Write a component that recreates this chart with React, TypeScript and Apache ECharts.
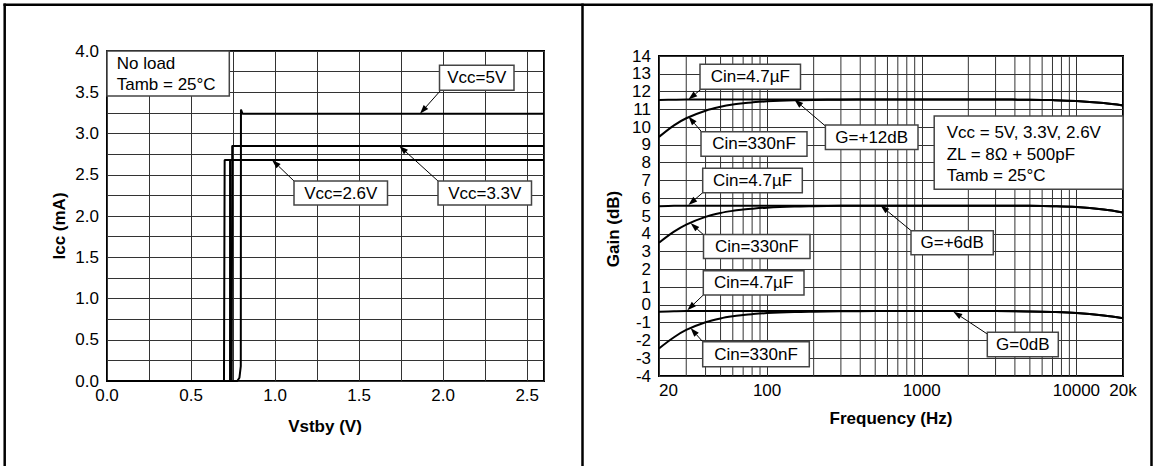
import React, { useEffect, useRef } from "react";
import * as echarts from "echarts";

const FONT = "'Liberation Sans', Arial, Helvetica, sans-serif";

// ---------- Left chart: Icc vs Vstby ----------
const vstby26 = [0, 0.696, 0.7, 2.6];
const icc26 = [0, 0, 2.68, 2.68];
const vstby33 = [0, 0.742, 0.745, 2.6];
const icc33 = [0, 0, 2.85, 2.85];
const vstby33b = [0.732, 0.732];
const icc33b = [0, 2.68];
const vstby5 = [0, 0.775, 0.788, 0.796, 0.797, 0.806, 2.6];
const icc5 = [0, 0, 0.04, 0.18, 3.29, 3.24, 3.24];

// ---------- Right chart: Gain vs Frequency ----------
const freqs = [20, 25, 30, 40, 50, 60, 70, 80, 100, 150, 200, 300, 500, 1000, 2000, 3000, 5000, 7000, 10000, 15000, 20000];
const g12Cin47u = [11.52, 11.54, 11.55, 11.55, 11.55, 11.55, 11.55, 11.55, 11.55, 11.55, 11.55, 11.55, 11.55, 11.55, 11.55, 11.55, 11.54, 11.52, 11.47, 11.35, 11.22];
const g12Cin330n = [9.45, 10.1, 10.5, 10.92, 11.14, 11.27, 11.34, 11.39, 11.45, 11.51, 11.53, 11.54, 11.55, 11.55, 11.55, 11.55, 11.54, 11.52, 11.47, 11.35, 11.22];
const g6Cin47u = [5.55, 5.57, 5.58, 5.58, 5.58, 5.58, 5.58, 5.58, 5.58, 5.58, 5.58, 5.58, 5.58, 5.58, 5.58, 5.58, 5.57, 5.55, 5.5, 5.36, 5.2];
const g6Cin330n = [3.5, 4.12, 4.52, 4.95, 5.17, 5.29, 5.36, 5.41, 5.47, 5.53, 5.55, 5.57, 5.58, 5.58, 5.58, 5.58, 5.57, 5.55, 5.5, 5.36, 5.2];
const g0Cin47u = [-0.38, -0.36, -0.35, -0.35, -0.35, -0.35, -0.35, -0.35, -0.35, -0.35, -0.35, -0.35, -0.35, -0.35, -0.35, -0.35, -0.37, -0.4, -0.46, -0.6, -0.75];
const g0Cin330n = [-2.45, -1.82, -1.41, -0.98, -0.76, -0.64, -0.57, -0.52, -0.46, -0.4, -0.38, -0.36, -0.35, -0.35, -0.35, -0.35, -0.37, -0.4, -0.46, -0.6, -0.75];
const logGridFreqs = [30, 40, 50, 60, 70, 80, 90, 200, 300, 400, 500, 600, 700, 800, 900, 2000, 3000, 4000, 5000, 6000, 7000, 8000, 9000];

const leftNotes = [
  { text: "Vcc=5V", box: [439.5, 65.3, 74.5, 25], from: [441, 90], tip: [1.862, 3.24] },
  { text: "Vcc=3.3V", box: [438, 181, 93.5, 24], from: [438, 181], tip: [1.739, 2.85] },
  { text: "Vcc=2.6V", box: [294, 181, 93.5, 24], from: [294, 181], tip: [0.982, 2.68] },
];
const rightNotes = [
  { text: "Cin=4.7µF", box: [700, 64.3, 100.5, 25], from: [701, 89.3], tip: [31, 11.55] },
  { text: "Cin=330nF", box: [701, 131.7, 106, 24.5], from: [701.5, 131.7], tip: [31, 10.6] },
  { text: "G=+12dB", box: [825.4, 125, 92.6, 24.5], from: [825.4, 126], tip: [150, 11.55] },
  { text: "Cin=4.7µF", box: [702.7, 168.3, 99.6, 24.4], from: [702.7, 192.7], tip: [31, 5.62] },
  { text: "Cin=330nF", box: [703.5, 234.5, 106.5, 24], from: [703.8, 235], tip: [32, 4.6] },
  { text: "G=+6dB", box: [911, 230.7, 82.3, 24], from: [911.5, 231], tip: [540, 5.6] },
  { text: "Cin=4.7µF", box: [703.3, 270.7, 100.7, 24.3], from: [703.3, 295], tip: [30.5, -0.3] },
  { text: "Cin=330nF", box: [702.7, 341.7, 106.6, 25], from: [702.7, 341.7], tip: [32, -1.3] },
  { text: "G=0dB", box: [987.3, 332.3, 71, 24.4], from: [987.3, 334], tip: [1600, -0.38] },
];

const zip = (xs: number[], ys: number[]) => xs.map((x, i) => [x, ys[i]]);

const labelStyle = { fontSize: 17, fontFamily: FONT, color: "#000" };
const gridLine = { show: true, lineStyle: { color: "#333", width: 1 } };
const halfFmt = (v: number) =>
  Math.abs(v * 2 - Math.round(v * 2)) < 1e-6 && v <= 4.01 && Math.abs(v - 2.6) > 1e-6 ? v.toFixed(1) : "";

const curve = (name: string, data: number[][], gi: number, smooth = false) => ({
  name,
  type: "line",
  xAxisIndex: gi,
  yAxisIndex: gi,
  data,
  showSymbol: false,
  symbol: "none",
  smooth: smooth ? 0.35 : false,
  lineStyle: { color: "#000", width: 2 },
  z: 3,
});

export default function App() {
  const ref = useRef<HTMLDivElement>(null);
  useEffect(() => {
    if (!ref.current) return;
    const chart = echarts.init(ref.current, null, { renderer: "svg" });
    chart.setOption({
      animation: false,
      backgroundColor: "#fff",
      grid: [
        { left: 107, top: 51, width: 437, height: 330, show: true, borderColor: "#000", borderWidth: 2, outerBoundsMode: "none" },
        { left: 659, top: 56, width: 464, height: 320, show: true, borderColor: "#000", borderWidth: 2, outerBoundsMode: "none" },
      ],
      xAxis: [
        {
          type: "value", gridIndex: 0, min: 0, max: 2.6, interval: 0.25,
          axisLine: { show: false }, axisTick: { show: false }, splitLine: gridLine,
          axisLabel: { ...labelStyle, margin: 6, formatter: halfFmt },
        },
        {
          type: "log", logBase: 10, gridIndex: 1, min: 20, max: 20000,
          axisLine: { show: false }, axisTick: { show: false }, splitLine: gridLine,
          axisLabel: {
            ...labelStyle, margin: 6, alignMinLabel: "left",
            formatter: (v: number) => (v >= 19999 ? "20k" : String(Math.round(v))),
          },
        },
      ],
      yAxis: [
        {
          type: "value", gridIndex: 0, min: 0, max: 4, interval: 0.25,
          axisLine: { show: false }, axisTick: { show: false }, splitLine: gridLine,
          axisLabel: { ...labelStyle, margin: 8, formatter: halfFmt },
        },
        {
          type: "value", gridIndex: 1, min: -4, max: 14, interval: 1,
          axisLine: { show: false }, axisTick: { show: false }, splitLine: gridLine,
          axisLabel: { ...labelStyle, margin: 8 },
        },
      ],
      series: [
        curve("Vcc=2.6V", zip(vstby26, icc26), 0),
        curve("Vcc=3.3V", zip(vstby33, icc33), 0),
        curve("Vcc=3.3V trace", zip(vstby33b, icc33b), 0),
        curve("Vcc=5V", zip(vstby5, icc5), 0),
        {
          type: "custom",
          xAxisIndex: 1,
          yAxisIndex: 1,
          z: 1,
          silent: true,
          data: logGridFreqs.map((f) => [f, 0]),
          encode: { x: 0, y: 1 },
          renderItem: (params: any, api: any) => {
            const x = api.coord([api.value(0), 0])[0];
            const cs = params.coordSys;
            return {
              type: "line",
              shape: { x1: x, y1: cs.y, x2: x, y2: cs.y + cs.height },
              style: { stroke: "#333", lineWidth: 1 },
            };
          },
        },
        curve("G=+12dB Cin=4.7µF", zip(freqs, g12Cin47u), 1, true),
        curve("G=+12dB Cin=330nF", zip(freqs, g12Cin330n), 1, true),
        curve("G=+6dB Cin=4.7µF", zip(freqs, g6Cin47u), 1, true),
        curve("G=+6dB Cin=330nF", zip(freqs, g6Cin330n), 1, true),
        curve("G=0dB Cin=4.7µF", zip(freqs, g0Cin47u), 1, true),
        curve("G=0dB Cin=330nF", zip(freqs, g0Cin330n), 1, true),
      ],
    });

    const els: any[] = [];
    const txt = (text: string, x: number, y: number, align = "center", extra: any = {}) => ({
      type: "text", x, y, z: 20, ...extra,
      style: { text, fontSize: 17, fontFamily: FONT, fill: "#000", align, verticalAlign: "middle", ...(extra.style || {}) },
    });
    const arrow = (from: number[], tip: number[]) => {
      const dx = tip[0] - from[0];
      const dy = tip[1] - from[1];
      const len = Math.hypot(dx, dy) || 1;
      const ux = dx / len;
      const uy = dy / len;
      const hl = 9;
      const hw = 3;
      const bx = tip[0] - ux * hl;
      const by = tip[1] - uy * hl;
      els.push({ type: "line", z: 19, shape: { x1: from[0], y1: from[1], x2: bx, y2: by }, style: { stroke: "#000", lineWidth: 1 } });
      els.push({
        type: "polygon", z: 19,
        shape: { points: [[tip[0], tip[1]], [bx - uy * hw, by + ux * hw], [bx + uy * hw, by - ux * hw]] },
        style: { fill: "#000" },
      });
    };
    const note = (n: any, gi: number) => {
      const tip = chart.convertToPixel({ gridIndex: gi }, n.tip) as number[];
      arrow(n.from, tip);
      const [x, y, w, h] = n.box;
      els.push({ type: "rect", z: 19, shape: { x, y, width: w, height: h }, style: { fill: "#fff", stroke: "#444", lineWidth: 1.5 } });
      els.push(txt(n.text, x + w / 2, y + h / 2));
    };
    leftNotes.forEach((n) => note(n, 0));
    rightNotes.forEach((n) => note(n, 1));

    // condition boxes
    els.push({ type: "rect", z: 19, shape: { x: 107, y: 51, width: 122.3, height: 45 }, style: { fill: "#fff", stroke: "#444", lineWidth: 1.5 } });
    els.push(txt("No load", 116.7, 63.5, "left"));
    els.push(txt("Tamb = 25°C", 116.7, 84.2, "left"));
    els.push({ type: "rect", z: 19, shape: { x: 934.2, y: 116, width: 188.8, height: 73.3 }, style: { fill: "#fff", stroke: "#444", lineWidth: 1.5 } });
    els.push(txt("Vcc = 5V, 3.3V, 2.6V", 946.7, 132.3, "left"));
    els.push(txt("ZL = 8Ω + 500pF", 946.7, 154, "left"));
    els.push(txt("Tamb = 25°C", 946.7, 175, "left"));

    // axis names
    const bold = { style: { fontWeight: "bold" } };
    els.push(txt("Icc (mA)", 59, 226, "center", { rotation: Math.PI / 2, ...bold }));
    els.push(txt("Vstby (V)", 325, 426, "center", bold));
    els.push(txt("Gain (dB)", 613, 229, "center", { rotation: Math.PI / 2, ...bold }));
    els.push(txt("Frequency (Hz)", 891, 418, "center", bold));

    // outer frame
    const frame = { stroke: "#000", lineWidth: 2.5 };
    els.push({ type: "line", z: 25, shape: { x1: 3.5, y1: 4.7, x2: 1152.5, y2: 4.7 }, style: frame });
    els.push({ type: "line", z: 25, shape: { x1: 4.7, y1: 3.5, x2: 4.7, y2: 466 }, style: frame });
    els.push({ type: "line", z: 25, shape: { x1: 582.5, y1: 3.5, x2: 582.5, y2: 466 }, style: frame });
    els.push({ type: "line", z: 25, shape: { x1: 1151.5, y1: 3.5, x2: 1151.5, y2: 466 }, style: frame });

    chart.setOption({ graphic: els });
    return () => chart.dispose();
  }, []);
  return <div ref={ref} style={{ position: "fixed", left: 0, top: 0, width: 1154, height: 466, background: "#fff" }} />;
}
